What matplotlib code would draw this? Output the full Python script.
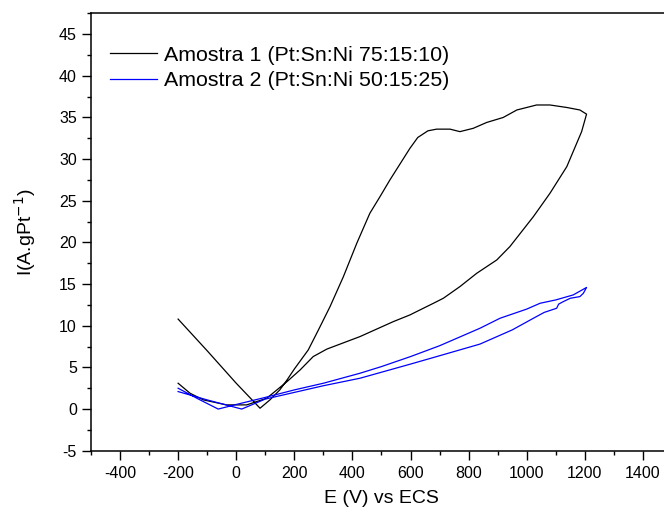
import numpy as np
import matplotlib.pyplot as plt
from matplotlib.ticker import MultipleLocator

plt.rcParams['font.family'] = ['Liberation Sans', 'DejaVu Sans']
plt.rcParams['axes.unicode_minus'] = False

# Amostra 1 (Pt:Sn:Ni 75:15:10) - ida e volta
e1 = [-200, -100, 0, 82, 116, 150, 175, 200, 248, 283, 323, 369, 415, 460, 495,
      529, 598, 625, 660, 690, 736, 770, 816, 862, 919, 966, 1034, 1080, 1138, 1183, 1206,
      1189, 1138, 1080, 1023, 942, 897, 828, 770, 713, 679, 621, 598, 541, 426,
      312, 265, 220, 175, 105, 36, -33, -113, -159, -200]
i1 = [10.8, 7.0, 3.1, 0.1, 1.1, 2.3, 3.5, 4.8, 7.1, 9.5, 12.3, 15.9, 19.9, 23.5, 25.5,
      27.5, 31.3, 32.6, 33.4, 33.6, 33.6, 33.3, 33.7, 34.4, 35.0, 35.9, 36.5, 36.5, 36.2, 35.9, 35.4,
      33.3, 29.1, 25.9, 23.1, 19.5, 17.9, 16.3, 14.7, 13.3, 12.7, 11.7, 11.3, 10.5, 8.7,
      7.2, 6.3, 4.7, 3.3, 1.3, 0.5, 0.5, 1.1, 1.9, 3.1]

# Amostra 2 (Pt:Sn:Ni 50:15:25)
e2 = [-200, -130, -62, 0, 100, 200, 300, 426, 500, 600, 700, 839, 908, 1000, 1046,
      1100, 1160, 1206, 1195, 1183, 1150, 1126, 1110, 1103, 1060, 1023, 950, 839,
      700, 600, 426, 300, 200, 100, 19, -100, -200]
i2 = [2.5, 1.2, 0.0, 0.55, 1.4, 2.3, 3.1, 4.3, 5.1, 6.3, 7.6, 9.7, 10.9, 12.0, 12.7,
      13.1, 13.7, 14.6, 13.9, 13.5, 13.3, 12.9, 12.6, 12.1, 11.6, 10.9, 9.5, 7.8,
      6.4, 5.4, 3.7, 2.8, 2.0, 1.2, 0.0, 1.1, 2.1]

labels = ['Amostra 1 (Pt:Sn:Ni 75:15:10)', 'Amostra 2 (Pt:Sn:Ni 50:15:25)']

fig = plt.figure(figsize=(6.64, 5.13), dpi=100)
ax = fig.add_axes([0.137, 0.1214, 0.875, 0.8526])

ax.plot(e1, i1, color='black', lw=0.9, label=labels[0])
ax.plot(e2, i2, color='#0000ff', lw=0.9, label=labels[1])

ax.set_xlim(-500, 1500)
ax.set_ylim(-5, 47.5)
ax.xaxis.set_minor_locator(MultipleLocator(100))
ax.yaxis.set_major_locator(MultipleLocator(5))
ax.yaxis.set_minor_locator(MultipleLocator(2.5))
ax.set_xticks([-400, -200, 0, 200, 400, 600, 800, 1000, 1200, 1400])

ax.tick_params(which='both', direction='out', top=False, right=False, width=1.0)
ax.tick_params(which='major', length=6.2, labelsize=11.5)
ax.tick_params(axis='x', which='major', pad=5)
ax.tick_params(axis='y', which='major', pad=4)
ax.tick_params(which='minor', length=3)
for s in ax.spines.values():
    s.set_linewidth(1.1)

ax.set_xlabel('E (V) vs ECS', fontsize=14, labelpad=6)
ax.set_ylabel('I(A.gPt$^{-1}$)', fontsize=14, labelpad=15)

ax.legend(loc='upper left', bbox_to_anchor=(0.018, 0.945), frameon=False,
          fontsize=15.4, handlelength=2.2, handletextpad=0.33,
          labelspacing=0.3, borderaxespad=0)

fig.savefig('out.png', dpi=100)
